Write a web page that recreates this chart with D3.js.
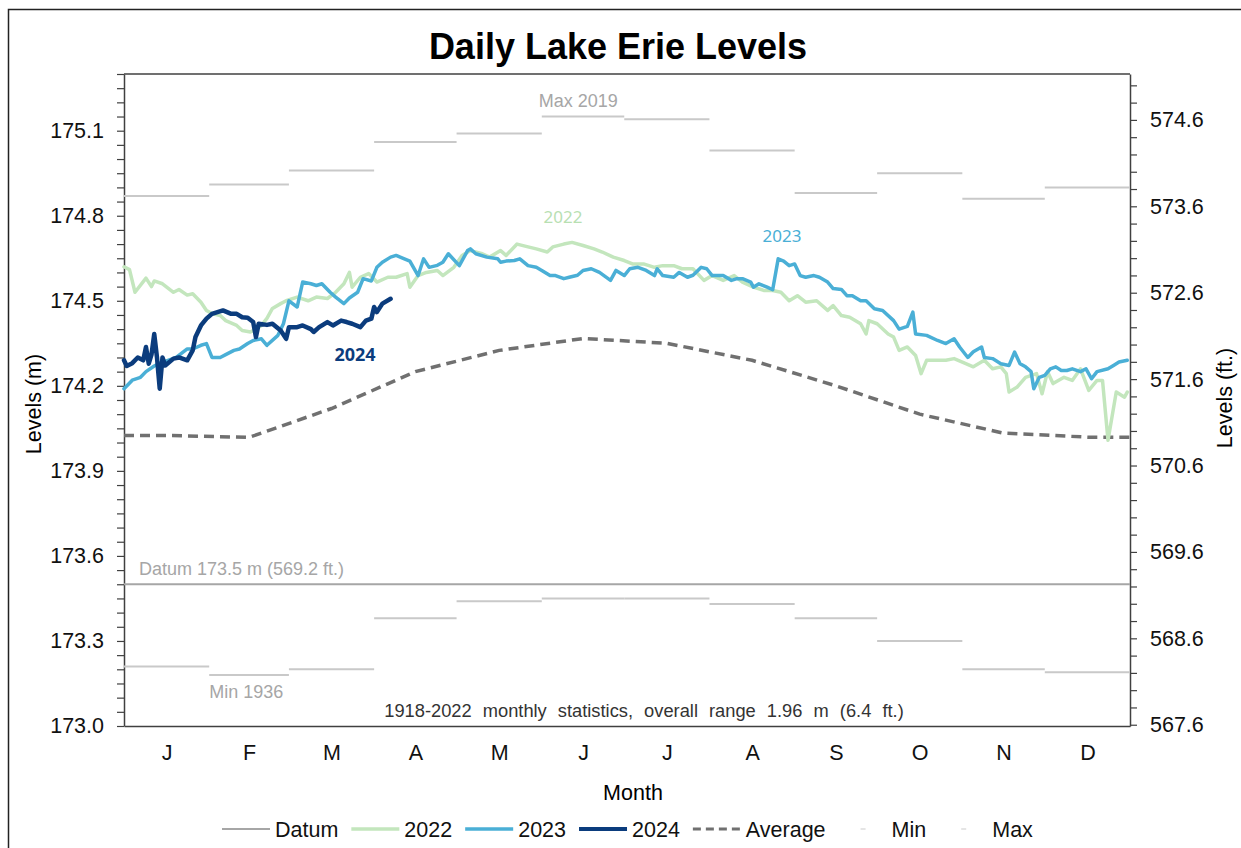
<!DOCTYPE html>
<html>
<head>
<meta charset="utf-8">
<script src="https://cdn.jsdelivr.net/npm/d3@7"></script>
<style>
  body { margin: 0; background: #fff; }
  text { font-family: "Liberation Sans", Arial, sans-serif; }
</style>
</head>
<body>
<svg id="chart" width="1241" height="848"></svg>
<script>
// ---- data (levels in metres, day = days since Jan 1) ----
const monthLabels = ['J','F','M','A','M','J','J','A','S','O','N','D'];
const monthDays = [31,29,31,30,31,30,31,31,30,31,30,31];

// 1918-2022 monthly extremes and mean
const maxLevels = [174.87,174.91,174.96,175.06,175.09,175.15,175.14,175.03,174.88,174.95,174.86,174.90];
const minLevels = [173.21,173.18,173.20,173.38,173.44,173.45,173.45,173.43,173.38,173.30,173.20,173.19];
const avgLevels = [174.025,174.018,174.12,174.25,174.325,174.367,174.35,174.29,174.20,174.10,174.033,174.019];
const datumLevel = 173.5;

const days2022 = [0,2,4,8,10,11,14,18,20,23,25,28,30,32,35,37,41,43,46,48,50,52,54,57,59,63,67,70,74,77,80,82,83,86,89,92,96,99,103,104,107,110,114,116,120,123,126,130,133,137,139,143,147,150,154,156,160,163,167,171,174,178,182,185,189,193,196,200,203,207,211,214,218,222,225,229,233,236,239,242,245,248,252,256,258,261,264,268,270,271,274,278,280,282,285,288,290,292,296,299,302,305,309,313,316,319,321,322,325,328,332,334,336,338,342,345,348,351,354,356,358,361,364,365];
const lev2022 = [174.62,174.61,174.53,174.58,174.55,174.57,174.56,174.53,174.54,174.52,174.525,174.495,174.466,174.455,174.448,174.43,174.413,174.395,174.39,174.40,174.413,174.438,174.473,174.49,174.50,174.513,174.50,174.513,174.508,174.53,174.56,174.60,174.548,174.583,174.596,174.566,174.583,174.583,174.596,174.548,174.589,174.60,174.607,174.589,174.618,174.66,174.677,174.667,174.654,174.677,174.66,174.70,174.69,174.683,174.672,174.69,174.70,174.706,174.695,174.683,174.672,174.654,174.642,174.63,174.63,174.618,174.624,174.624,174.613,174.613,174.572,174.589,174.572,174.589,174.566,174.548,174.536,174.536,174.53,174.50,174.518,174.495,174.50,174.466,174.483,174.448,174.442,174.419,174.383,174.43,174.419,174.383,174.372,174.325,174.337,174.307,174.243,174.29,174.29,174.29,174.296,174.284,174.267,174.29,174.26,174.267,174.243,174.178,174.196,174.23,174.243,174.172,174.25,174.208,174.23,174.219,174.26,174.184,174.219,174.219,174.008,174.178,174.16,174.178];

const days2023 = [0,3,6,8,11,13,16,19,23,25,28,30,32,35,37,40,42,45,47,50,52,56,58,60,63,65,68,70,72,75,77,80,82,85,87,90,92,94,97,99,102,104,107,109,111,114,116,118,122,125,126,128,132,136,137,139,142,144,147,150,152,155,157,160,162,165,167,170,173,177,179,182,184,187,190,193,194,196,200,202,205,207,210,212,214,218,221,223,225,228,229,231,234,236,238,240,242,244,246,248,251,253,256,258,261,263,265,268,270,273,276,280,282,285,287,288,292,296,299,302,304,307,309,312,313,316,319,322,324,326,328,330,331,333,335,337,339,341,343,345,348,350,352,354,358,360,362,365];
const lev2023 = [174.19,174.22,174.23,174.25,174.27,174.28,174.29,174.30,174.33,174.33,174.343,174.349,174.30,174.30,174.31,174.325,174.33,174.349,174.36,174.366,174.343,174.378,174.419,174.50,174.478,174.566,174.56,174.554,174.56,174.53,174.513,174.49,174.51,174.53,174.578,174.57,174.618,174.636,174.654,174.66,174.648,174.64,174.589,174.648,174.618,174.625,174.636,174.666,174.624,174.677,174.683,174.666,174.654,174.648,174.636,174.64,174.642,174.648,174.624,174.618,174.607,174.589,174.589,174.578,174.583,174.59,174.607,174.613,174.60,174.572,174.607,174.589,174.613,174.618,174.607,174.589,174.613,174.589,174.583,174.60,174.583,174.59,174.618,174.613,174.589,174.589,174.572,174.578,174.578,174.566,174.548,174.56,174.548,174.539,174.648,174.64,174.624,174.63,174.589,174.583,174.589,174.583,174.566,174.543,174.54,174.518,174.518,174.50,174.50,174.472,174.466,174.43,174.40,174.41,174.46,174.383,174.378,174.36,174.349,174.366,174.337,174.30,174.32,174.337,174.30,174.296,174.278,174.272,174.319,174.278,174.267,174.25,174.19,174.23,174.237,174.26,174.267,174.254,174.254,174.26,174.25,174.26,174.225,174.25,174.26,174.272,174.284,174.29];

const days2024 = [0,1,3,5,7,8,9,10,11,12,13,14,15,18,20,23,25,26,28,30,32,34,36,39,41,43,45,47,48,49,52,54,57,59,60,63,65,68,69,71,74,76,79,81,83,86,88,90,91,92,94,97];
const lev2024 = [174.29,174.27,174.28,174.30,174.29,174.337,174.278,174.31,174.383,174.30,174.19,174.30,174.272,174.296,174.30,174.29,174.325,174.372,174.413,174.437,174.454,174.46,174.466,174.454,174.454,174.442,174.44,174.425,174.372,174.419,174.415,174.419,174.395,174.366,174.407,174.407,174.413,174.40,174.39,174.407,174.425,174.413,174.43,174.425,174.419,174.407,174.43,174.437,174.478,174.46,174.49,174.507];

const M_TO_FT = 3.28084;

// ---- layout ----
const svg = d3.select('#chart');
const plotL = 124, plotR = 1130, plotT = 74, plotB = 726;
const axisColor = '#404040';

const x = d3.scaleLinear().domain([0, d3.sum(monthDays)]).range([plotL, plotR]);
const y = d3.scaleLinear().domain([173.0, 175.3]).range([plotB, plotT]);
const yFt = d3.scaleLinear().domain([173.0 * M_TO_FT, 175.3 * M_TO_FT]).range([plotB, plotT]);

const monthStart = Array.from(d3.cumsum([0].concat(monthDays)));   // 13 boundaries
const monthMid = monthDays.map((d, i) => monthStart[i] + d / 2);

// outer frame
svg.append('rect')
  .attr('x', 8.5).attr('y', 9.5).attr('width', 1250).attr('height', 860)
  .attr('fill', 'none').attr('stroke', '#222').attr('stroke-width', 1.5);

// title
svg.append('text')
  .attr('x', 618).attr('y', 59)
  .attr('text-anchor', 'middle')
  .style('font-size', '36px').style('font-weight', 'bold')
  .text('Daily Lake Erie Levels');

// top frame line
svg.append('line')
  .attr('x1', plotL).attr('x2', plotR).attr('y1', plotT).attr('y2', plotT)
  .attr('stroke', axisColor).attr('stroke-width', 1.5);

// ---- axes ----
const mTicks = d3.range(0, 47).map(i => +(173.0 + i * 0.05).toFixed(2));
const leftAxis = d3.axisLeft(y)
  .tickValues(mTicks)
  .tickFormat((d, i) => i % 6 === 0 ? d.toFixed(1) : '')
  .tickSize(7).tickSizeOuter(0).tickPadding(13);
const gl = svg.append('g').attr('transform', `translate(${plotL},0)`).call(leftAxis);

const ftTicks = d3.range(0, 38).map(i => +(567.6 + i * 0.2).toFixed(1));
const rightAxis = d3.axisRight(yFt)
  .tickValues(ftTicks)
  .tickFormat((d, i) => i % 5 === 0 ? d.toFixed(1) : '')
  .tickSize(7).tickSizeOuter(0).tickPadding(13);
const gr = svg.append('g').attr('transform', `translate(${plotR},0)`).call(rightAxis);

const bottomAxis = d3.axisBottom(x)
  .tickValues(monthMid)
  .tickFormat((d, i) => monthLabels[i])
  .tickSize(0).tickSizeOuter(0).tickPadding(19);
const gb = svg.append('g').attr('transform', `translate(0,${plotB})`).call(bottomAxis);

[gl, gr, gb].forEach(g => {
  g.selectAll('path.domain').attr('stroke', axisColor).attr('stroke-width', 1.5);
  g.selectAll('.tick line').attr('stroke', axisColor).attr('stroke-width', 1.2);
  g.selectAll('.tick text')
    .attr('fill', '#111')
    .style('font-size', '21.5px')
    .style('font-family', '"Liberation Sans", Arial, sans-serif');
});

// axis titles
svg.append('text')
  .attr('transform', 'translate(41,404) rotate(-90)')
  .attr('text-anchor', 'middle')
  .style('font-size', '21.5px')
  .text('Levels (m)');
svg.append('text')
  .attr('transform', 'translate(1232,398) rotate(-90)')
  .attr('text-anchor', 'middle')
  .style('font-size', '21.5px')
  .text('Levels (ft.)');
svg.append('text')
  .attr('x', 633).attr('y', 800)
  .attr('text-anchor', 'middle')
  .style('font-size', '21.5px')
  .text('Month');

// ---- marks ----
const plot = svg.append('g');

// datum
plot.append('line')
  .attr('x1', x(0)).attr('x2', x(monthStart[12]))
  .attr('y1', y(datumLevel)).attr('y2', y(datumLevel))
  .attr('stroke', '#a6a6a6').attr('stroke-width', 2);

// monthly max / min steps
plot.selectAll('line.max').data(maxLevels).join('line')
  .attr('class', 'max')
  .attr('x1', (d, i) => x(monthStart[i])).attr('x2', (d, i) => x(monthStart[i + 1]))
  .attr('y1', d => y(d)).attr('y2', d => y(d))
  .attr('stroke', '#c9c9c9').attr('stroke-width', 2);
plot.selectAll('line.min').data(minLevels).join('line')
  .attr('class', 'min')
  .attr('x1', (d, i) => x(monthStart[i])).attr('x2', (d, i) => x(monthStart[i + 1]))
  .attr('y1', d => y(d)).attr('y2', d => y(d))
  .attr('stroke', '#c9c9c9').attr('stroke-width', 2);

const line = d3.line().x(d => x(d[0])).y(d => y(d[1]));

// average: monthly means at mid-month, held flat to the year ends
const avgPts = [[0, avgLevels[0]]]
  .concat(monthMid.map((m, i) => [m, avgLevels[i]]))
  .concat([[monthStart[12], avgLevels[11]]]);
plot.append('path')
  .attr('d', line(avgPts))
  .attr('fill', 'none').attr('stroke', '#707070')
  .attr('stroke-width', 3.5).attr('stroke-dasharray', '10,6');

const series = [
  { days: days2022, lev: lev2022, color: '#c3e6bd', width: 3.5 },
  { days: days2023, lev: lev2023, color: '#4aafd6', width: 3.5 },
  { days: days2024, lev: lev2024, color: '#0b3c7d', width: 4.5 }
];
series.forEach(s => {
  plot.append('path')
    .attr('d', line(d3.zip(s.days, s.lev)))
    .attr('fill', 'none').attr('stroke', s.color)
    .attr('stroke-width', s.width)
    .attr('stroke-linejoin', 'round').attr('stroke-linecap', 'round');
});

// ---- annotations ----
const note = (tx, ty, str, opts = {}) => svg.append('text')
  .attr('x', tx).attr('y', ty)
  .attr('text-anchor', opts.anchor || 'start')
  .attr('fill', opts.fill || '#a6a6a6')
  .style('font-size', (opts.size || 18) + 'px')
  .style('font-weight', opts.weight || 'normal')
  .style('word-spacing', (opts.wordSpacing || 0) + 'px')
  .style('font-family', opts.family || '"Liberation Sans", Arial, sans-serif')
  .text(str);

note(x(monthStart[5]) - 3, y(maxLevels[5]) - 10, 'Max 2019');
note(x(monthStart[1]), y(minLevels[1]) + 23, 'Min 1936');
note(x(0) + 15, y(datumLevel) - 9, 'Datum 173.5 m (569.2 ft.)');
note(644, y(173.0) - 9, '1918-2022 monthly statistics, overall range 1.96 m (6.4 ft.)',
  { anchor: 'middle', fill: '#333', size: 18.3, wordSpacing: 6 });
note(563, 223, '2022', { anchor: 'middle', fill: '#b8e0b2', size: 17, family: '"Noto Sans", "Open Sans", sans-serif' });
note(782, 242, '2023', { anchor: 'middle', fill: '#4aafd6', size: 17, family: '"Noto Sans", "Open Sans", sans-serif' });
note(355, 361, '2024', { anchor: 'middle', fill: '#0b3c7d', size: 18, weight: 'bold', family: '"Noto Sans", "Open Sans", sans-serif' });

// ---- legend ----
const legendItems = [
  { name: 'Datum', color: '#a6a6a6', width: 2, dash: null, full: true },
  { name: '2022', color: '#c3e6bd', width: 3.5, dash: null, full: true },
  { name: '2023', color: '#4aafd6', width: 3.5, dash: null, full: true },
  { name: '2024', color: '#0b3c7d', width: 4, dash: null, full: true },
  { name: 'Average', color: '#707070', width: 3, dash: '8,5', full: true },
  { name: 'Min', color: '#dcdcdc', width: 1.5, dash: null, full: false },
  { name: 'Max', color: '#dcdcdc', width: 1.5, dash: null, full: false }
];
const legendY = 829;
let lx = 222;
legendItems.forEach(it => {
  const g = svg.append('g');
  if (it.full) {
    g.append('line').attr('x1', lx).attr('x2', lx + 48)
      .attr('y1', legendY).attr('y2', legendY)
      .attr('stroke', it.color).attr('stroke-width', it.width)
      .attr('stroke-dasharray', it.dash);
  } else {
    g.append('line').attr('x1', lx + 22).attr('x2', lx + 27)
      .attr('y1', legendY).attr('y2', legendY)
      .attr('stroke', it.color).attr('stroke-width', it.width);
  }
  const t = g.append('text')
    .attr('x', lx + 53).attr('y', legendY + 8)
    .style('font-size', '21.5px')
    .attr('fill', '#111')
    .text(it.name);
  lx += 53 + t.node().getComputedTextLength() + 13;
});
</script>
</body>
</html>
